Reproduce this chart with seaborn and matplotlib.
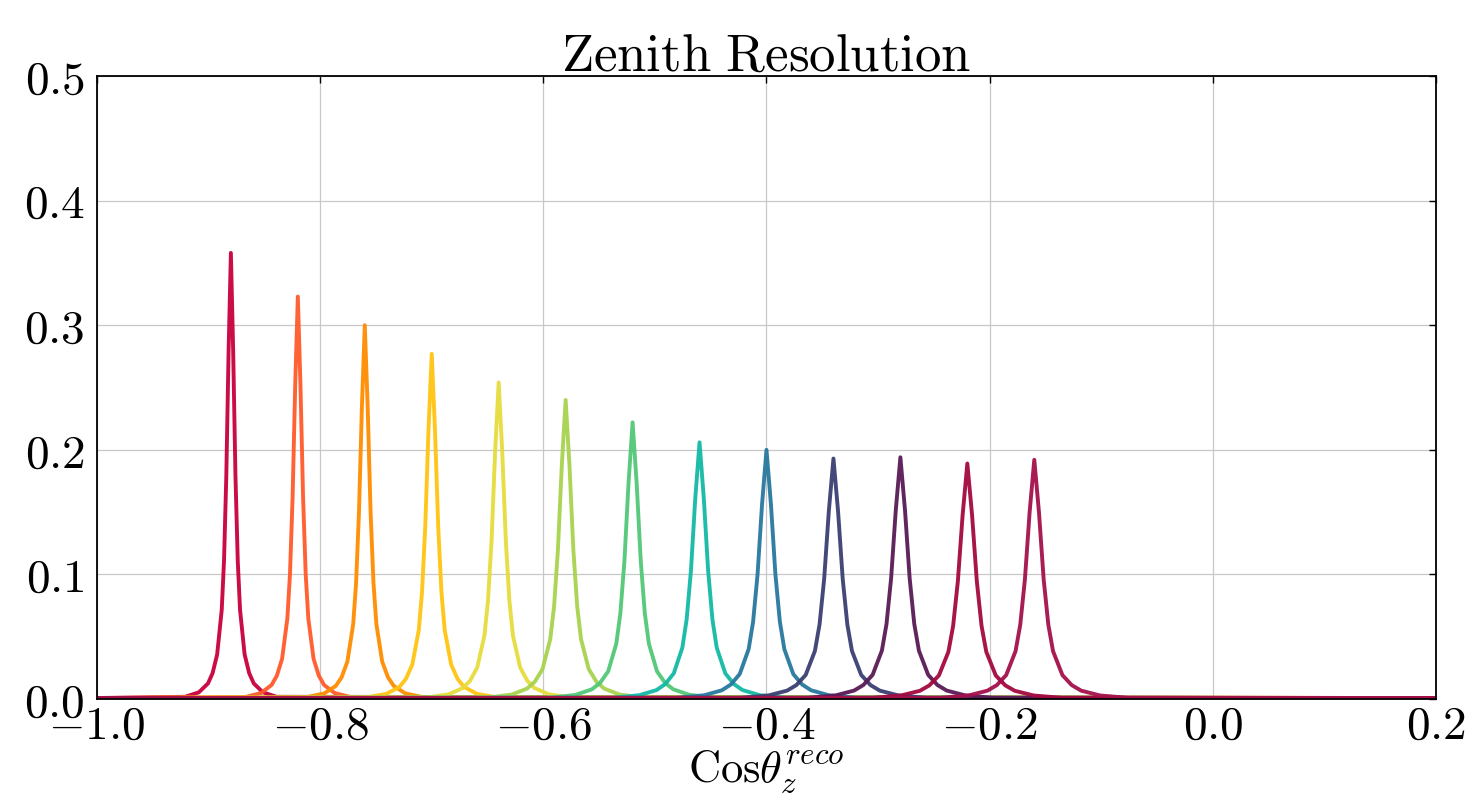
import numpy as np
import pandas as pd
import matplotlib
matplotlib.use('Agg')
import matplotlib.pyplot as plt
from matplotlib.ticker import FuncFormatter
import seaborn as sns

# Peak positions, heights and half-widths
centers = [-0.88, -0.82, -0.76, -0.70, -0.64, -0.58, -0.52, -0.46, -0.40, -0.34, -0.28, -0.22, -0.16]
heights = [0.358, 0.323, 0.300, 0.277, 0.254, 0.240, 0.222, 0.206, 0.200, 0.193, 0.194, 0.189, 0.192]
half_widths = [0.0041, 0.0047, 0.0052, 0.0058, 0.0064, 0.0069, 0.0073, 0.0077, 0.0080, 0.0083, 0.0083, 0.0085, 0.0084]
colors = ['#C8003C', '#FF5A2A', '#FF8C00', '#FFC412', '#E6DC3C', '#A8D24E', '#52C878',
          '#14B9A6', '#28789E', '#3B3F72', '#5A1A55', '#A3083F', '#A3104A']

# Shared peak profile (offset in half-widths -> fraction of peak height)
profile_u = [0, 0.5, 1.0, 1.5, 2.0, 3.0, 4.0, 5.0, 7.0, 10.0]
profile_f = [1.0, 0.78, 0.5, 0.31, 0.2, 0.1, 0.058, 0.035, 0.015, 0.005]

x_range = [-1.0, 0.2]
floor = 0.0008

rows = []
for i, (c, h, w) in enumerate(zip(centers, heights, half_widths)):
    u = np.array(profile_u)
    f = np.array(profile_f)
    xs = np.concatenate([[x_range[0]], c - u[::-1] * w, c + u[1:] * w, [x_range[1]]])
    ys = np.concatenate([[floor], h * f[::-1], h * f[1:], [floor]])
    for x, y in zip(xs, ys):
        rows.append({'peak': i, 'x': x, 'y': max(y, floor)})
df = pd.DataFrame(rows)

sns.set_style('white')
plt.rcParams['mathtext.fontset'] = 'cm'
plt.rcParams['font.family'] = ['DejaVu Serif']
plt.rcParams['text.color'] = 'black'
plt.rcParams['xtick.color'] = 'black'
plt.rcParams['ytick.color'] = 'black'

fig = plt.figure(figsize=(14.65, 7.93), dpi=100)
ax = fig.add_axes([0.0662, 0.1185, 0.914, 0.7857])

sns.lineplot(data=df, x='x', y='y', hue='peak', palette=colors, estimator=None,
             sort=False, legend=False, linewidth=2.8, alpha=0.95, ax=ax)


def fmt(v, p):
    if abs(v) < 1e-9:
        v = 0.0
    return f'${v:.1f}$'


ax.set_xlim(-1.0, 0.2)
ax.set_ylim(0.0, 0.5)
ax.set_xticks(np.arange(-1.0, 0.21, 0.2))
ax.set_yticks(np.arange(0.0, 0.51, 0.1))
ax.xaxis.set_major_formatter(FuncFormatter(fmt))
ax.yaxis.set_major_formatter(FuncFormatter(fmt))
ax.tick_params(direction='in', length=5, width=1, labelsize=34, top=True, right=True)
ax.tick_params(axis='x', pad=3)
ax.tick_params(axis='y', pad=9)
ax.grid(True, color='#c8c8c8', linewidth=0.9)
ax.set_axisbelow(True)
for s in ax.spines.values():
    s.set_color('black')
    s.set_linewidth(1.3)

ax.set_title(r'$\mathrm{Zenith\ Resolution}$', fontsize=38, pad=4, color='black')
ax.set_xlabel(r'$\mathrm{Cos}\theta_z^{reco}$', fontsize=32, labelpad=0, color='black')
ax.set_ylabel('')

fig.savefig('out.png', dpi=100)
